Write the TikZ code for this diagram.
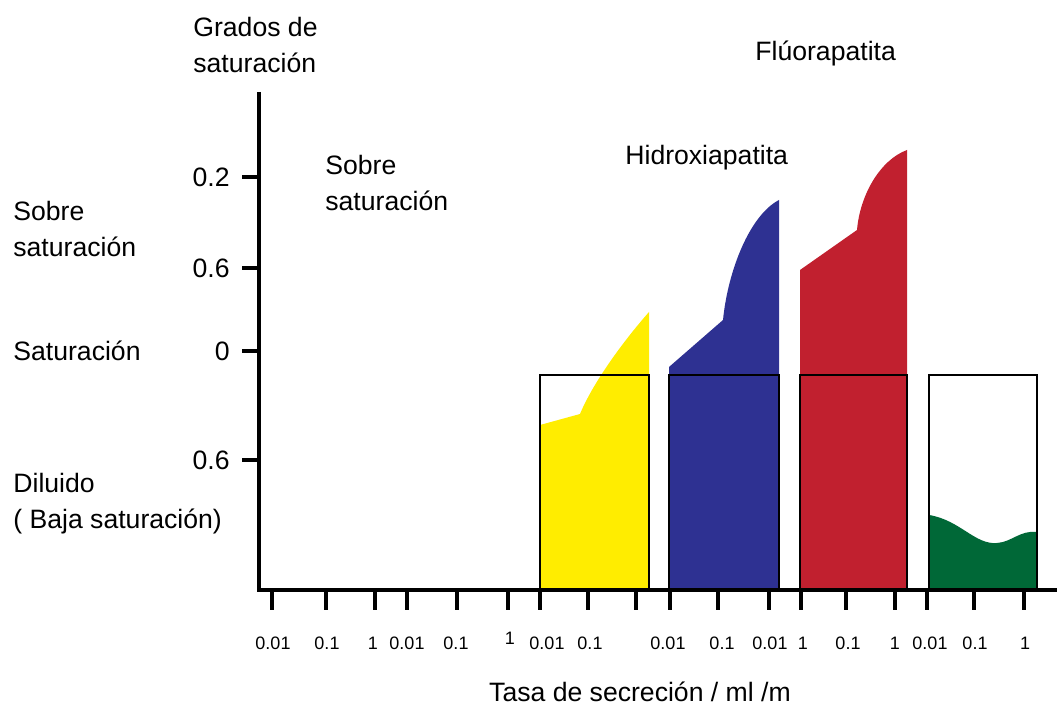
\documentclass[tikz,border=0pt]{standalone}
\usepackage{fontspec}
\setmainfont{Liberation Sans}
\usetikzlibrary{positioning}
\definecolor{hidroYellow}{RGB}{255,237,0}
\definecolor{hidroBlue}{RGB}{46,49,146}
\definecolor{fluorRed}{RGB}{193,32,47}
\definecolor{dilGreen}{RGB}{0,104,55}
\tikzset{
    axisText/.style={font=\fontsize{13.3}{18}\selectfont, inner sep=0pt, align=left},
    tickText/.style={font=\fontsize{9}{10}\selectfont, inner sep=0pt},
    axisLine/.style={line width=2pt},
    tickMark/.style={line width=2pt},
    barBox/.style={draw=black, line width=0.7pt}
}

\begin{document}
\begin{tikzpicture}[x=0.5pt,y=-0.5pt]
	\useasboundingbox (0,0) rectangle (1057,710);
	% coloured bars
	\fill[hidroYellow] (540,590) -- (540,425) -- (580,414) .. controls (592,385) and (620,345) .. (649,312) -- (649,590) -- cycle;
	\fill[hidroBlue] (669,590) -- (669,367) -- (723,320) .. controls (728,270) and (750,215) .. (779,200) -- (779,590) -- cycle;
	\fill[fluorRed] (800,590) -- (800,270) -- (857,230) .. controls (860,195) and (880,160) .. (907,150) -- (907,590) -- cycle;
	\fill[dilGreen] (929,590) -- (929,515) .. controls (960,520) and (975,545) .. (997,543) .. controls (1012,542) and (1020,530) .. (1037,532) -- (1037,590) -- cycle;
	\foreach \l/\r in {540/649,669/779,800/907,929/1037}
		\draw[barBox] (\l,375) rectangle (\r,590);
	% axes
	\coordinate (yTop) at (259,92);
	\coordinate (origin) at (259,590);
	\coordinate (xEnd) at (1057,590);
	\draw[axisLine] (yTop) -- (origin) -- (xEnd);
	\foreach \y/\t [count=\i] in {177/0.2,268/0.6,351/0,460/0.6}{
		\draw[tickMark] (242,\y) -- (259,\y);
		\node[axisText, anchor=east] (yVal\i) at (230,\y) {\t};
	}
	\foreach \x in {272,326,375,407,457,508,540,588,636,670,718,769,801,846,895,927,974,1024}
		\draw[tickMark] (\x,592) -- (\x,610);
	\foreach \x/\t [count=\i] in {273/0.01,327/0.1,373/1,407/0.01,456/0.1,547/0.01,590/0.1,668/0.01,722/0.1,770/0.01,803/1,848/0.1,895/1,930/0.01,975/0.1,1025/1}
		\node[tickText] (xVal\i) at (\x,643) {\t};
	\node[tickText] (xValRaised) at (510,638) {1};
	% texts
	\node[axisText, anchor=west] (grados) at (193,45) {Grados de\\saturación};
	\node[axisText, anchor=west] (sobreLeft) at (13,229) {Sobre\\saturación};
	\node[axisText, anchor=west] (satLeft) at (13,351) {Saturación};
	\node[axisText, anchor=west] (diluido) at (13,504) {Diluido\\( Baja saturación)};
	\node[axisText, anchor=west] (sobreMid) at (325,183) {Sobre\\saturación};
	\node[axisText, anchor=west] (hidroxi) at (625,158) {Hidroxiapatita};
	\node[axisText, anchor=west] (fluor) at (755,53) {Flúorapatita};
	\node[axisText] (tasa) at (640,692) {Tasa de secreción / ml /m};
\end{tikzpicture}
\end{document}
